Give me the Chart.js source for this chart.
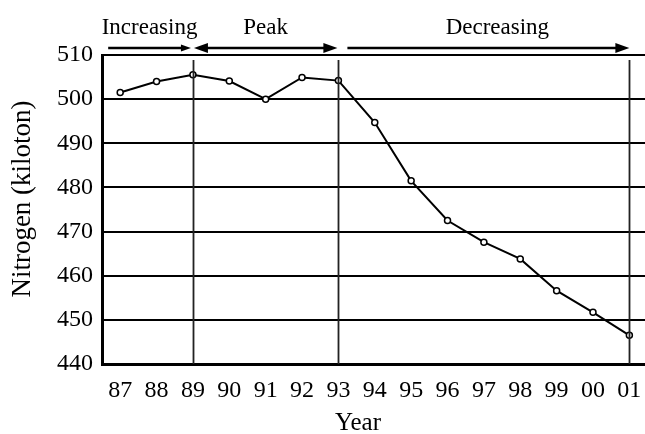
<!DOCTYPE html>
<html>
<head>
<meta charset="utf-8">
<script src="https://cdn.jsdelivr.net/npm/chart.js@4"></script>
<style>
  html, body { margin: 0; padding: 0; background: #fff; }
  #wrap { width: 645px; height: 434px; }
</style>
</head>
<body>
<div id="wrap"><canvas id="nitrogenChart"></canvas></div>
<script>
// values
const years = ['87', '88', '89', '90', '91', '92', '93', '94', '95', '96', '97', '98', '99', '00', '01'];
const nitrogen = [501.5, 504.0, 505.5, 504.1, 500.0, 504.9, 504.2, 494.7, 481.5, 472.5, 467.6, 463.8, 456.6, 451.7, 446.5];
const yTicks = [440, 450, 460, 470, 480, 490, 500, 510];
const phaseLabels = ['Increasing', 'Peak', 'Decreasing'];
const phaseBounds = [0, 2, 6, 14]; // indexes into years where a phase starts / ends

const serif = "'Liberation Serif', 'DejaVu Serif', serif";

function arrowHead(ctx, x, y, dir, len, half) {
    ctx.beginPath();
    ctx.moveTo(x, y);
    ctx.lineTo(x - dir * len, y - half);
    ctx.lineTo(x - dir * len, y + half);
    ctx.closePath();
    ctx.fill();
}

const phasePlugin = {
    id: 'phases',
    afterDraw(chart) {
        const ctx = chart.ctx;
        const xs = chart.scales.x;
        const area = chart.chartArea;
        ctx.save();

        // phase dividers
        ctx.strokeStyle = '#222';
        ctx.lineWidth = 1.8;
        phaseBounds.slice(1).forEach(i => {
            const x = Math.round(xs.getPixelForValue(i)) + 0.5;
            ctx.beginPath();
            ctx.moveTo(x, area.top + 5);
            ctx.lineTo(x, area.bottom);
            ctx.stroke();
        });

        // arrows above the plot
        const ay = 48;
        ctx.fillStyle = '#000';
        ctx.strokeStyle = '#000';
        ctx.lineWidth = 2.5;
        const spans = [
            [xs.getPixelForValue(phaseBounds[0]) - 12, xs.getPixelForValue(phaseBounds[1]) - 2, false],
            [xs.getPixelForValue(phaseBounds[1]) + 1, xs.getPixelForValue(phaseBounds[2]) - 1, true],
            [xs.getPixelForValue(phaseBounds[2]) + 9, xs.getPixelForValue(phaseBounds[3]), false]
        ];
        spans.forEach(([x0, x1, both], k) => {
            const len = k === 0 ? 10 : 14;
            const half = k === 0 ? 3.5 : 5;
            ctx.beginPath();
            ctx.moveTo(both ? x0 + len - 1 : x0, ay);
            ctx.lineTo(x1 - len + 1, ay);
            ctx.stroke();
            arrowHead(ctx, x1, ay, 1, len, half);
            if (both) arrowHead(ctx, x0, ay, -1, len, half);

            ctx.font = '23px ' + serif;
            ctx.textAlign = 'center';
            ctx.textBaseline = 'alphabetic';
            const shift = k === 2 ? 9 : 0;
            ctx.fillText(phaseLabels[k], (x0 + x1) / 2 + shift, 34);
        });

        // axis titles
        ctx.font = '25px ' + serif;
        ctx.textAlign = 'center';
        ctx.textBaseline = 'middle';
        ctx.fillText('Year', 358, 423);
        ctx.translate(23, 199);
        ctx.rotate(-Math.PI / 2);
        ctx.font = '27px ' + serif;
        ctx.fillText('Nitrogen (kiloton)', 0, 0);

        ctx.restore();
    }
};

const ctx = document.getElementById('nitrogenChart').getContext('2d');

new Chart(ctx, {
    type: 'line',
    data: {
        datasets: [{
            label: 'Nitrogen',
            data: nitrogen.map((v, i) => ({ x: i, y: v })),
            borderColor: '#000',
            borderWidth: 2,
            pointRadius: 3,
            pointBorderWidth: 1.5,
            pointBackgroundColor: '#fff',
            pointBorderColor: '#000',
            tension: 0
        }]
    },
    options: {
        responsive: true,
        maintainAspectRatio: false,
        animation: false,
        layout: {
            autoPadding: false,
            padding: { top: 55, right: 0, left: 0, bottom: 0 }
        },
        plugins: {
            legend: { display: false },
            tooltip: { enabled: false }
        },
        scales: {
            x: {
                type: 'linear',
                min: -0.5,
                max: 14.43,
                afterBuildTicks: scale => {
                    scale.ticks = years.map((_, i) => ({ value: i }));
                },
                afterFit: scale => {
                    scale.height = 70;
                    scale.paddingLeft = 0;
                    scale.paddingRight = 0;
                },
                grid: { color: 'rgba(0,0,0,0)', drawTicks: false },
                border: { display: true, color: '#000', width: 3 },
                ticks: {
                    autoSkip: false,
                    maxRotation: 0,
                    padding: 12,
                    color: '#000',
                    font: { family: serif, size: 24 },
                    callback: value => years[Math.round(value)]
                }
            },
            y: {
                min: yTicks[0],
                max: yTicks[yTicks.length - 1],
                afterBuildTicks: scale => {
                    scale.ticks = yTicks.map(v => ({ value: v }));
                },
                afterFit: scale => {
                    scale.width = 102;
                    scale.paddingTop = 0;
                    scale.paddingBottom = 0;
                },
                grid: { color: '#000', lineWidth: 2, drawTicks: false },
                border: { display: true, color: '#000', width: 3 },
                ticks: {
                    padding: 9,
                    color: '#000',
                    font: { family: serif, size: 24 }
                }
            }
        }
    },
    plugins: [phasePlugin]
});
</script>
</body>
</html>
